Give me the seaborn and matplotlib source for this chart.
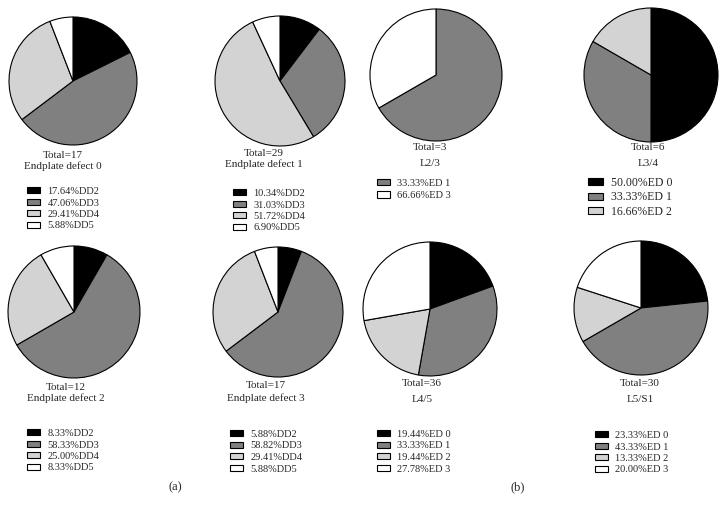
import numpy as np
import pandas as pd
import seaborn as sns
import matplotlib.pyplot as plt

# Data
dd_colors = ["#000000", "#808080", "#d3d3d3", "#ffffff"]
ed_colors = ["#000000", "#808080", "#d3d3d3", "#ffffff"]

# (a) disc degeneration grade per endplate defect group
ep0_values = [17.64, 47.06, 29.41, 5.88]
ep1_values = [10.34, 31.03, 51.72, 6.90]
ep2_values = [8.33, 58.33, 25.00, 8.33]
ep3_values = [5.88, 58.82, 29.41, 5.88]
dd_names = ["DD2", "DD3", "DD4", "DD5"]

# (b) endplate defect grade per level
l23_values = [66.66, 33.33]          # wedges as drawn (grey, white)
l23_legend = ["33.33%ED 1", "66.66%ED 3"]
l23_colors = ["#808080", "#ffffff"]
l34_values = [50.00, 33.33, 16.66]
l45_values = [19.44, 33.33, 19.44, 27.78]
l51_values = [23.33, 43.33, 13.33, 20.00]
ed_names = ["ED 0", "ED 1", "ED 2", "ED 3"]

totals = [17, 29, 12, 17, 3, 6, 36, 30]
titles = ["Endplate defect 0", "Endplate defect 1", "Endplate defect 2",
          "Endplate defect 3", "L2/3", "L3/4", "L4/5", "L5/S1"]

W, H = 726, 512
sns.set_theme(style="white")
plt.rcParams['font.family'] = ['Liberation Serif', 'DejaVu Serif']

fig = plt.figure(figsize=(W / 100, H / 100), dpi=100)


def dd_labels(vals):
    return [f"{v:.2f}%{n}" for v, n in zip(vals, dd_names)]


def ed_labels(vals):
    return [f"{v:.2f}%{n}" for v, n in zip(vals, ed_names)]


# layout: center x, center y, radius, text x, total y, title y, legend x, legend top, font, spacing
panels = [
    (ep0_values, dd_colors, dd_labels(ep0_values), 73, 81, 64, 63, 155, 166, 27, 187, 7.5, 0.24),
    (ep1_values, dd_colors, dd_labels(ep1_values), 280, 81, 65, 264, 153, 164, 233, 189, 7.5, 0.24),
    (ep2_values, dd_colors, dd_labels(ep2_values), 74, 312, 66, 66, 387, 398, 27, 429, 7.5, 0.24),
    (ep3_values, dd_colors, dd_labels(ep3_values), 278, 312, 65, 266, 385, 398, 230, 430, 7.5, 0.24),
    (l23_values, l23_colors, l23_legend, 436, 75, 66, 430, 148, 163, 377, 179, 7.5, 0.3),
    (l34_values, ed_colors[:3], ed_labels(l34_values), 651, 75, 67, 648, 148, 163, 588, 177, 8.5, 0.2),
    (l45_values, ed_colors, ed_labels(l45_values), 430, 309, 67, 422, 383, 400, 377, 430, 7.5, 0.24),
    (l51_values, ed_colors, ed_labels(l51_values), 641, 308, 67, 640, 383, 400, 595, 431, 7.5, 0.24),
]

for (vals, cols, labels, cx, cy, r, tx, ty, tty, lx, ly, fs, sp), tot, title in zip(
        panels, totals, titles):
    half = r + 1
    ax = fig.add_axes([(cx - half) / W, 1 - (cy + half) / H, 2 * half / W, 2 * half / H])
    wedges, _ = ax.pie(vals, colors=cols, startangle=90, counterclock=False,
                       wedgeprops=dict(edgecolor="black", linewidth=0.8))
    ax.set_xlim(-half / r, half / r)
    ax.set_ylim(-half / r, half / r)
    ax.set_aspect("equal")
    fig.text(tx / W, 1 - ty / H, f"Total={tot}", ha="center", va="center", fontsize=8)
    fig.text(tx / W, 1 - tty / H, title, ha="center", va="center", fontsize=8)
    fig.legend(wedges, labels, loc="upper left",
               bbox_to_anchor=(lx / W, 1 - ly / H), bbox_transform=fig.transFigure,
               frameon=False, fontsize=fs, borderpad=0, borderaxespad=0,
               handlelength=1.25, handleheight=0.55, handletextpad=0.7,
               labelspacing=sp)

fig.text(175 / W, 1 - 487 / H, "(a)", ha="center", va="center", fontsize=9)
fig.text(518 / W, 1 - 487 / H, "(b)", ha="center", va="center", fontsize=9)

fig.savefig("out.png", dpi=100, facecolor="white")
